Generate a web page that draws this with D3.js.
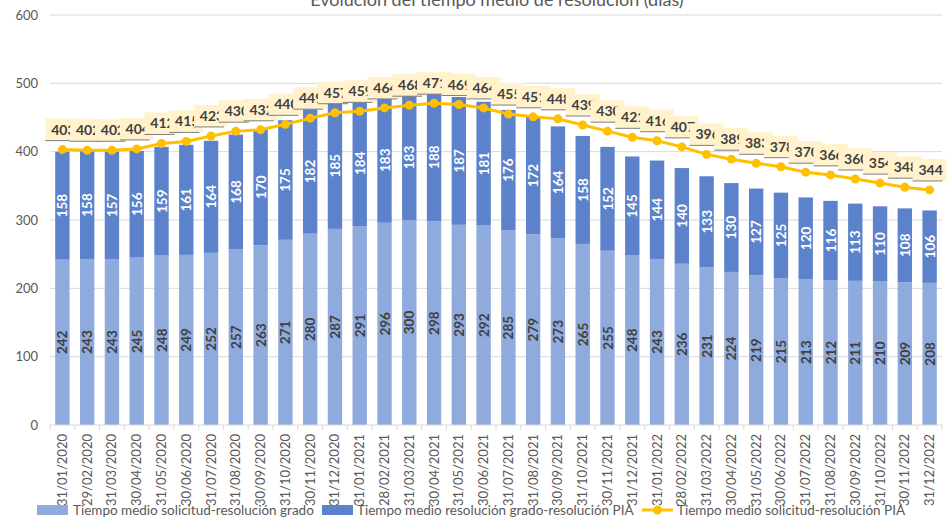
<!DOCTYPE html>
<html>
<head>
<meta charset="utf-8">
<script src="https://cdn.jsdelivr.net/npm/d3@7"></script>
<style>
  body { margin: 0; background: #fff; }
  svg { display: block; font-family: Lato, "Open Sans", sans-serif; }
</style>
</head>
<body>
<div id="container"></div>
<script>
const dates = [
  "31/01/2020","29/02/2020","31/03/2020","30/04/2020","31/05/2020","30/06/2020",
  "31/07/2020","31/08/2020","30/09/2020","31/10/2020","30/11/2020","31/12/2020",
  "31/01/2021","28/02/2021","31/03/2021","30/04/2021","31/05/2021","30/06/2021",
  "31/07/2021","31/08/2021","30/09/2021","31/10/2021","30/11/2021","31/12/2021",
  "31/01/2022","28/02/2022","31/03/2022","30/04/2022","31/05/2022","30/06/2022",
  "31/07/2022","31/08/2022","30/09/2022","31/10/2022","30/11/2022","31/12/2022"
];
const grado = [242,243,243,245,248,249,252,257,263,271,280,287,291,296,300,298,293,292,
               285,279,273,265,255,248,243,236,231,224,219,215,213,212,211,210,209,208];
const gradoPIA = [158,158,157,156,159,161,164,168,170,175,182,185,184,183,183,188,187,181,
                  176,172,164,158,152,145,144,140,133,130,127,125,120,116,113,110,108,106];
const solicitudPIA = [403,402,402,404,412,415,423,430,432,440,449,457,459,464,468,471,469,464,
                      455,451,448,439,430,421,416,407,396,389,383,378,370,366,360,354,348,344];
const yTicks = [0,100,200,300,400,500,600];
const seriesNames = [
  "Tiempo medio solicitud-resolución grado",
  "Tiempo medio resolución grado-resolución PIA",
  "Tiempo medio solicitud-resolución PIA"
];

const W = 952, H = 519;
const colLight = "#8FAADC", colDark = "#5B82CB", colLine = "#FFC000";

const svg = d3.select("#container").append("svg")
  .attr("width", W).attr("height", H);

const x = d3.scaleBand()
  .domain(dates)
  .range([50, 942])
  .paddingInner(0.42)
  .paddingOuter(0.21);

const y = d3.scaleLinear().domain([0, 600]).range([425, 15]);

// gridlines
svg.append("g")
  .selectAll("line")
  .data(yTicks.filter(d => d > 0))
  .join("line")
  .attr("x1", 50).attr("x2", 942)
  .attr("y1", d => y(d)).attr("y2", d => y(d))
  .attr("stroke", "#d9d9d9").attr("stroke-width", 1);

// y axis labels
svg.append("g")
  .selectAll("text")
  .data(yTicks)
  .join("text")
  .attr("x", 38).attr("y", d => y(d) + 4.5)
  .attr("text-anchor", "end")
  .attr("font-size", 13)
  .attr("fill", "#595959")
  .text(d => d);

// title (sits partly above the top edge, as in the original)
svg.append("text")
  .attr("x", 497).attr("y", 6)
  .attr("text-anchor", "middle")
  .attr("font-size", 18)
  .attr("fill", "#595959")
  .text("Evolución del tiempo medio de resolución (días)");

// bars
const bars = dates.map((d, i) => ({ date: d, a: grado[i], b: gradoPIA[i] }));

svg.append("g")
  .selectAll("rect")
  .data(bars)
  .join("rect")
  .attr("x", d => x(d.date)).attr("width", x.bandwidth())
  .attr("y", d => y(d.a)).attr("height", d => y(0) - y(d.a))
  .attr("fill", colLight);

svg.append("g")
  .selectAll("rect")
  .data(bars)
  .join("rect")
  .attr("x", d => x(d.date)).attr("width", x.bandwidth())
  .attr("y", d => y(d.a + d.b)).attr("height", d => y(d.a) - y(d.a + d.b))
  .attr("fill", colDark);

// x axis line + ticks
svg.append("line")
  .attr("x1", 50).attr("x2", 942)
  .attr("y1", y(0)).attr("y2", y(0))
  .attr("stroke", "#d9d9d9");

const step = x.step();
svg.append("g")
  .selectAll("line")
  .data(d3.range(dates.length + 1))
  .join("line")
  .attr("x1", i => 50 + i * step).attr("x2", i => 50 + i * step)
  .attr("y1", y(0)).attr("y2", y(0) + 5)
  .attr("stroke", "#d9d9d9");

// bar labels
const cx = d => x(d) + x.bandwidth() / 2;
svg.append("g")
  .selectAll("text")
  .data(bars)
  .join("text")
  .attr("transform", d => `translate(${cx(d.date) + 5},${(y(0) + y(d.a)) / 2}) rotate(-90)`)
  .attr("text-anchor", "middle")
  .attr("font-size", 13.5).attr("font-weight", "bold")
  .attr("fill", "#404040")
  .text(d => d.a);

svg.append("g")
  .selectAll("text")
  .data(bars)
  .join("text")
  .attr("transform", d => `translate(${cx(d.date) + 5},${(y(d.a) + y(d.a + d.b)) / 2}) rotate(-90)`)
  .attr("text-anchor", "middle")
  .attr("font-size", 13.5).attr("font-weight", "bold")
  .attr("fill", "#ffffff")
  .text(d => d.b);

// x labels
svg.append("g")
  .selectAll("text")
  .data(dates)
  .join("text")
  .attr("transform", d => `translate(${cx(d) + 4.5},${y(0) + 9}) rotate(-90)`)
  .attr("text-anchor", "end")
  .attr("font-size", 13)
  .attr("fill", "#595959")
  .text(d => d);

// line series
const pts = dates.map((d, i) => ({ date: d, v: solicitudPIA[i] }));
const line = d3.line().x(d => cx(d.date)).y(d => y(d.v));

svg.append("path")
  .datum(pts)
  .attr("d", line)
  .attr("fill", "none")
  .attr("stroke", colLine)
  .attr("stroke-width", 3);

svg.append("g")
  .selectAll("circle")
  .data(pts)
  .join("circle")
  .attr("cx", d => cx(d.date)).attr("cy", d => y(d.v))
  .attr("r", 4.5)
  .attr("fill", colLine);

// line labels (callout boxes, later ones cover earlier ones)
const lbl = svg.append("g")
  .selectAll("g")
  .data(pts)
  .join("g")
  .attr("transform", d => `translate(${cx(d.date)},${y(d.v) - 20})`);

lbl.append("rect")
  .attr("x", -17).attr("y", -11)
  .attr("width", 34).attr("height", 22)
  .attr("fill", "#FFF2CC");

lbl.append("line")
  .attr("x1", -17).attr("x2", 13)
  .attr("y1", 11).attr("y2", 11)
  .attr("stroke", "#7f7f7f").attr("stroke-width", 1);

lbl.append("text")
  .attr("x", 1).attr("y", 5)
  .attr("text-anchor", "middle")
  .attr("font-size", 14).attr("font-weight", "bold")
  .attr("fill", "#404040")
  .text(d => d.v);

// legend
const leg = svg.append("g").attr("font-size", 13.5).attr("fill", "#595959");
leg.append("rect").attr("x", 37).attr("y", 505).attr("width", 31).attr("height", 10).attr("fill", colLight);
leg.append("text").attr("x", 73).attr("y", 515).text(seriesNames[0]);
leg.append("rect").attr("x", 322).attr("y", 505).attr("width", 31).attr("height", 10).attr("fill", colDark);
leg.append("text").attr("x", 357).attr("y", 515).text(seriesNames[1]);
leg.append("line").attr("x1", 642).attr("x2", 673).attr("y1", 510).attr("y2", 510)
  .attr("stroke", colLine).attr("stroke-width", 3);
leg.append("circle").attr("cx", 657.5).attr("cy", 510).attr("r", 4.5).attr("fill", colLine);
leg.append("text").attr("x", 677).attr("y", 515).text(seriesNames[2]);
</script>
</body>
</html>
